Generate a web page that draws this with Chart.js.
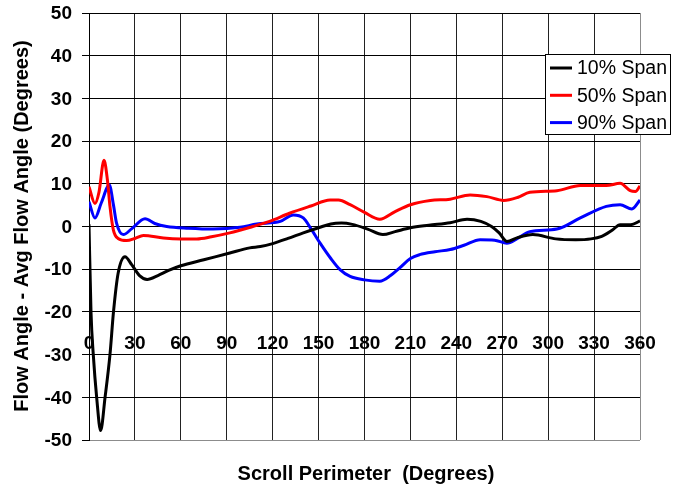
<!DOCTYPE html>
<html>
<head>
<meta charset="utf-8">
<script src="https://cdn.jsdelivr.net/npm/chart.js@4/dist/chart.umd.min.js"></script>
<style>
  html, body { margin: 0; padding: 0; background: #fff; }
  #wrap { width: 690px; height: 491px; }
</style>
</head>
<body>
<div id="wrap"><canvas id="c" width="690" height="491"></canvas></div>
<script>
// Flow angle deviation around the scroll perimeter at three span positions
const xTicks = [0, 30, 60, 90, 120, 150, 180, 210, 240, 270, 300, 330, 360];
const yTicks = [50, 40, 30, 20, 10, 0, -10, -20, -30, -40, -50];
const seriesNames = ['10% Span', '50% Span', '90% Span'];
const seriesColors = ['#000000', '#ff0000', '#0000ff'];

const span10Deg = [0, 1.3, 2.8, 5, 7.6, 10.5, 13.7, 16, 19, 23.5, 28, 33, 38, 45, 52, 60, 75, 92, 105, 112, 120, 130, 140, 150, 158, 165, 172, 182, 192, 200, 210, 222, 236, 247, 256, 263, 268, 273, 280, 290, 305, 318, 328, 335, 342, 347, 354, 360];
const span10Val = [0.5, -20, -30, -40, -47.8, -40, -30, -20, -11, -7.1, -9, -11.5, -12.4, -11.5, -10.3, -9.2, -7.8, -6.2, -5.0, -4.7, -4, -2.8, -1.5, -0.3, 0.6, 0.8, 0.5, -0.6, -1.9, -1.2, -0.3, 0.3, 0.9, 1.7, 1.2, 0, -1.5, -3.5, -2.6, -1.9, -2.9, -3.1, -2.9, -2.3, -0.8, 0.4, 0.4, 1.3];

const span50Deg = [0, 3.9, 6.5, 9.8, 12, 13.7, 15.9, 19, 24.6, 30, 35.5, 48.6, 60, 70.4, 80, 92, 107, 118, 131, 145, 157.5, 163, 170.6, 180, 190, 200, 210, 223, 236, 249, 260, 271, 280, 288, 305.7, 321, 338, 347, 353.6, 357, 360];
const span50Val = [9.3, 5.4, 8, 15.5, 11, 4.7, -0.8, -2.8, -3.3, -2.8, -2.1, -2.7, -2.9, -2.9, -2.4, -1.5, 0, 1.2, 3.1, 4.8, 6.2, 6.2, 5.1, 3.3, 1.7, 3.5, 5.1, 6.1, 6.4, 7.4, 7, 6.1, 6.8, 8.0, 8.4, 9.6, 9.6, 10.1, 8.4, 8.2, 9.5];

const span90Deg = [0, 3.9, 8, 13.3, 16, 18, 22.4, 28, 36.6, 43, 50.8, 65, 81, 98.7, 109.6, 125, 133.5, 140, 145, 151, 158, 164, 170.6, 180, 190, 197, 203, 210, 216, 226, 236, 245, 255.6, 265, 273, 280, 288, 305.7, 321, 338, 347, 354.7, 360];
const span90Val = [5.8, 2.0, 5.5, 9.7, 5, 0.8, -1.9, -0.5, 1.8, 0.7, 0, -0.4, -0.6, -0.2, 0.6, 1.2, 2.7, 2.0, -0.5, -3.9, -7.5, -10.1, -11.7, -12.5, -12.8, -11.5, -9.7, -7.5, -6.6, -5.9, -5.4, -4.4, -3.1, -3.2, -3.9, -2.8, -1.2, -0.6, 2.0, 4.7, 5.1, 4.1, 6.2];

const xTitle = 'Scroll Perimeter  (Degrees)';
const yTitle = 'Flow Angle - Avg Flow Angle (Degrees)';

const FONT = "'Liberation Sans', Arial, sans-serif";

function toPoints(xs, ys) {
  return xs.map((x, i) => ({ x: x, y: ys[i] }));
}

const datasets = [
  [span10Deg, span10Val],
  [span50Deg, span50Val],
  [span90Deg, span90Val]
].map(([xs, ys], i) => ({
  label: seriesNames[i],
  data: toPoints(xs, ys),
  borderColor: seriesColors[i],
  backgroundColor: seriesColors[i],
  borderWidth: 3,
  pointRadius: 0,
  fill: false,
  cubicInterpolationMode: 'monotone'
}));

// Tick labels, titles and the boxed legend are painted here
const decorations = {
  id: 'decorations',
  afterDraw(chart) {
    const ctx = chart.ctx;
    const xs = chart.scales.x;
    const ys = chart.scales.y;
    ctx.save();
    ctx.fillStyle = '#000';

    // x tick labels, set low inside the plot
    ctx.font = 'bold 19px ' + FONT;
    ctx.textAlign = 'center';
    ctx.textBaseline = 'middle';
    const labelY = ys.getPixelForValue(-27.5);
    xTicks.forEach(v => ctx.fillText(String(v), xs.getPixelForValue(v), labelY));

    // y tick labels
    ctx.textAlign = 'right';
    yTicks.forEach(v => ctx.fillText(String(v), ys.left + ys.width - 17, ys.getPixelForValue(v) + 1));

    // axis titles
    ctx.textAlign = 'center';
    ctx.font = 'bold 20px ' + FONT;
    ctx.fillText(xTitle, 366, 474);
    ctx.save();
    ctx.translate(22, 226);
    ctx.rotate(-Math.PI / 2);
    ctx.fillText(yTitle, 0, 0);
    ctx.restore();

    // legend
    const lx = 545.5, ly = 54.5, lw = 125, lh = 80;
    ctx.fillStyle = '#fff';
    ctx.fillRect(lx, ly, lw, lh);
    ctx.strokeStyle = '#000';
    ctx.lineWidth = 1;
    ctx.strokeRect(lx, ly, lw, lh);
    ctx.font = '19.5px ' + FONT;
    ctx.textAlign = 'left';
    seriesNames.forEach((name, i) => {
      const ry = 68 + i * 27.3;
      ctx.strokeStyle = seriesColors[i];
      ctx.lineWidth = 3;
      ctx.beginPath();
      ctx.moveTo(550, ry);
      ctx.lineTo(572, ry);
      ctx.stroke();
      ctx.fillStyle = '#000';
      ctx.fillText(name, 577, ry + 1);
    });
    ctx.restore();
  }
};

new Chart(document.getElementById('c'), {
  type: 'line',
  data: { datasets: datasets },
  options: {
    responsive: false,
    animation: false,
    devicePixelRatio: 1,
    layout: { padding: { left: 0, top: 13, right: 50, bottom: 51 } },
    plugins: { legend: { display: false }, tooltip: { enabled: false } },
    scales: {
      x: {
        type: 'linear',
        min: 0,
        max: 360,
        afterBuildTicks: s => { s.ticks = xTicks.map(v => ({ value: v })); },
        ticks: { display: false },
        grid: {
          drawTicks: false,
          color: c => (c.tick && c.tick.value === 360) ? '#8c8c8c' : '#222',
          lineWidth: 1
        },
        border: { display: false },
        afterFit: s => { s.height = 0; }
      },
      y: {
        type: 'linear',
        min: -50,
        max: 50,
        afterBuildTicks: s => { s.ticks = yTicks.slice().reverse().map(v => ({ value: v })); },
        ticks: { display: false },
        grid: {
          drawTicks: true,
          tickLength: 7,
          tickColor: '#000',
          color: c => (c.tick && c.tick.value === -50) ? '#8c8c8c' : '#000',
          lineWidth: 1
        },
        border: { display: true, color: '#000', width: 1 },
        afterFit: s => { s.width = 89; }
      }
    }
  },
  plugins: [decorations]
});
</script>
</body>
</html>
